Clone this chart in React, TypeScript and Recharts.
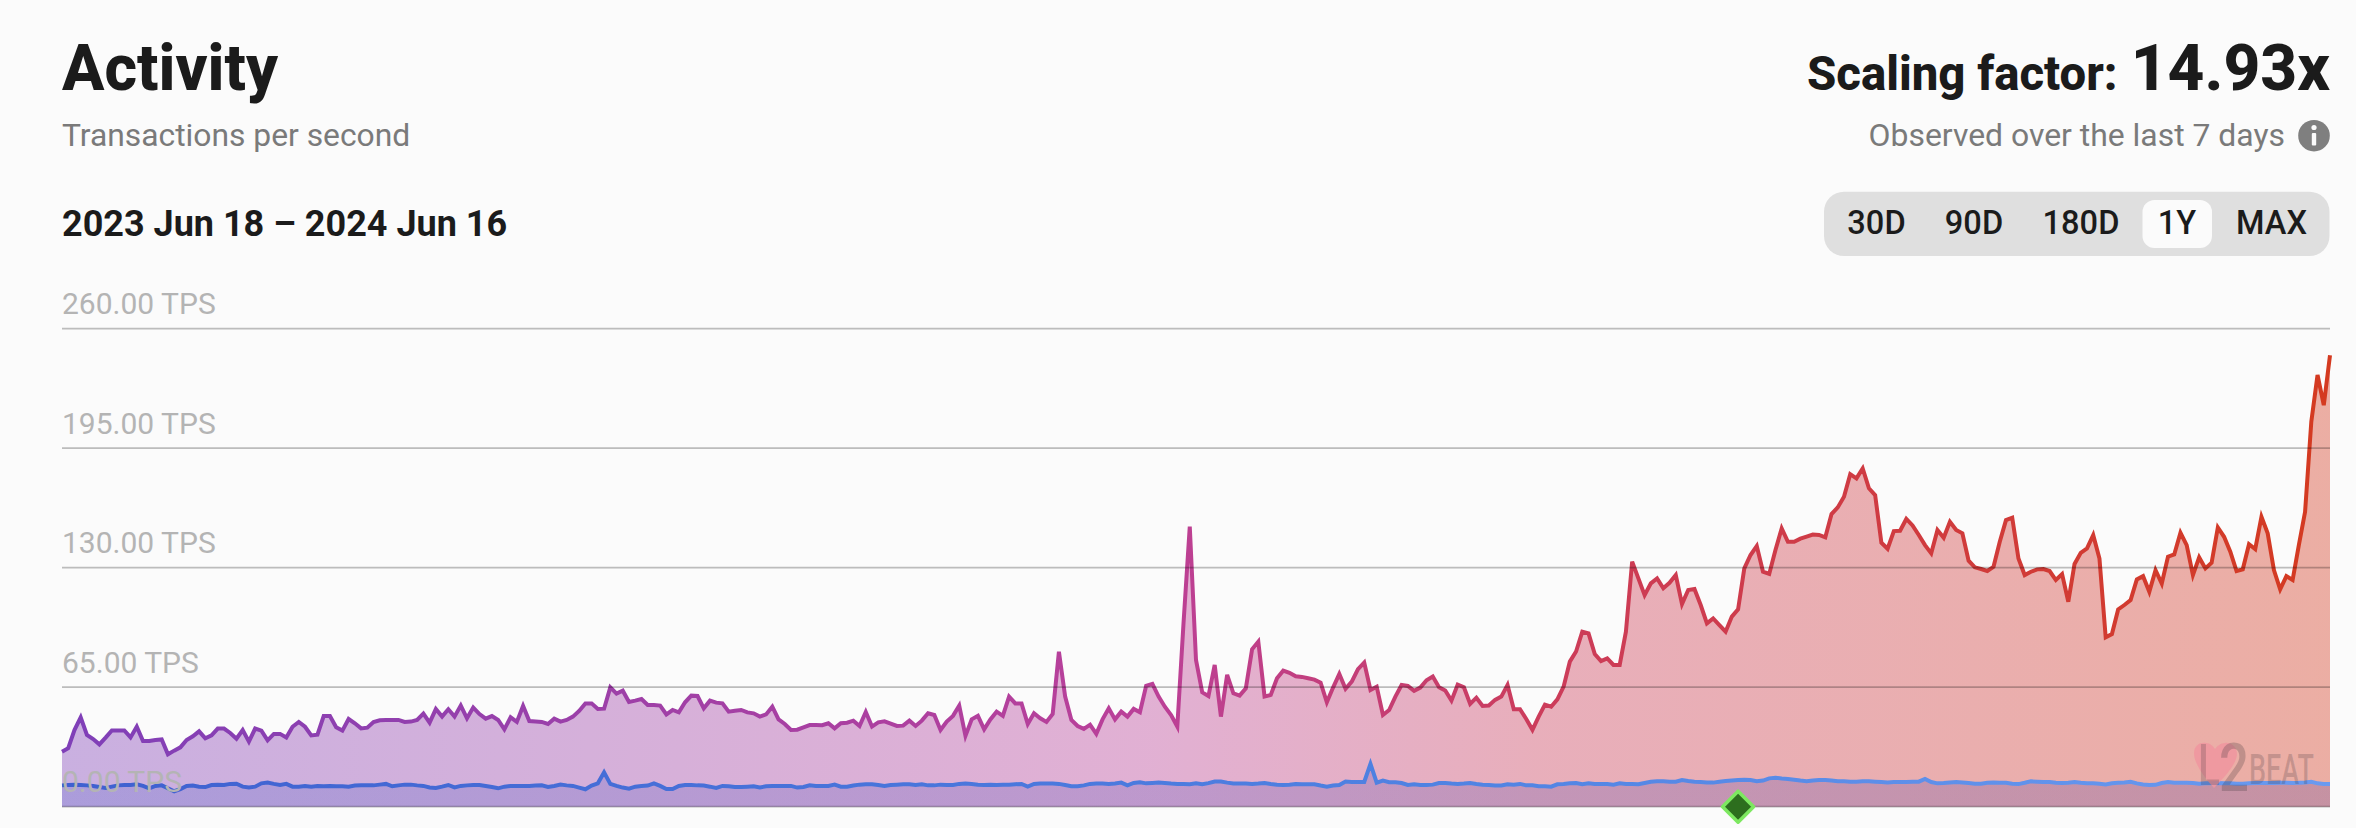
import React from "react";
import { AreaChart, Area, XAxis, YAxis, ReferenceLine, ReferenceDot } from "recharts";

const tickValues = [0, 65, 130, 195, 260];
const rangeOptions = ["30D", "90D", "180D", "1Y", "MAX"];
const upgradeDate = "2024-03-13";

const projectsA = [29.9,31.8,41.7,48.6,39.0,36.8,33.9,37.6,41.5,41.5,41.5,37.7,43.5,35.7,35.7,36.3,36.6,28.5,30.5,32.3,36.3,38.3,41.0,37.2,38.8,42.5,42.5,40.1,37.0,41.7,35.4,42.5,41.4,36.1,39.6,39.6,37.6,43.5,46.1,43.5,38.8,39.2,49.3,49.3,43.2,41.4,47.7,45.4,42.6,43.0,46.1,47.0,47.2,47.2,47.2,46.1,46.3,47.2,50.6,45.7,53.1,49.0];
const projectsB = [53.0,49.0,55.0,48.1,53.9,50.4,47.9,49.3,47.2,42.1,48.6,46.1,54.8,46.6,46.4,46.1,45.0,47.9,46.3,47.2,49.0,52.1,56.2,56.2,53.1,53.3,64.9,61.5,63.1,57.0,57.7,58.6,55.3,55.3,55.0,50.2,52.6,51.3,56.8,60.4,60.2,53.5,57.7,56.6,56.2,51.7,52.2,52.6,51.3,50.8,49.0,50.2,54.4,47.5,45.0,41.7,41.9,43.2,44.4,44.4];
const projectsC = [44.3,45.4,42.6,45.4,45.7,46.8,43.9,51.5,43.6,45.9,46.4,45.2,43.9,44.1,46.8,43.9,46.8,50.8,49.9,41.7,46.3,49.4,55.0,38.5,47.5,49.4,42.1,47.5,51.7,49.4,59.9,56.2,56.2,45.0,50.8,48.1,46.1,50.4,84.3,59.9,47.2,43.9,42.3,44.6,39.6,47.5,53.5,47.5,51.7,49.0,53.2,51.4,65.7,66.8,59.9,54.4,49.9,43.6,100,152.3,79.8];
const projectsD = [62.2,60.2,77.1,49.0,71.7,61.7,60.4,64.4,85.6,89.8,59.9,60.8,69.9,74.0,72.8,70.9,70.6,69.9,69.1,67.5,56.8,64.8,72.2,64.1,68.0,74.8,78.4,63.5,65.3,49.9,52.6,59.9,66.2,65.7,63.0,64.8,68.8,70.8,65.0,63.2,57.7,66.4,65.0,55.9,59.3,54.8,55.0,58.1,59.9,66.2,53.0,53.0,47.7,41.8,49.0,55.5,54.4,58.4,65.3,78.9,84.4];
const projectsE = [95.2,94.3,83.0,79.2,80.7,77.1,77.1,95.2,133.3,124.2,115.1,121.5,124.2,118.8,121.8,126.0,110.2,117.9,118.4,109.7,99.7,102.4,98.8,95.2,103.4,107.3,129.6,136.9,141.8,127.8,126.6,139.6,151.4,144.1,144.1,145.8,146.9,148.0,147.8,146.5,159.2,162.8,168.6,180.9,178.6,184.0,173.2,169.5,143.6,140.3,149.9,150.1,156.5,153.0,147.8,142.3,137.8,150.5,146.3,155.0];
const projectsF = [150.5,148.7,133.8,130.2,129.3,128.2,130.5,144.1,155.9,157.2,135.0,126.0,127.8,129.1,129.3,128.2,123.3,126.5,111.5,132.0,138.1,140.5,147.7,135.0,92.1,93.9,107.3,109.7,112.4,123.6,125.4,116.9,128.7,121.4,136.0,137.2,149.0,142.3,126.0,135.6,129.6,132.7,151.9,146.8,138.7,128.2,129.1,142.8,140.1,157.7,148.7,128.7,118.2,125.4,123.3,142.3,160.4,209.4,234.8,218.4,245.6];

const ethereumA = [11.6,11.8,12.0,11.8,11.6,11.3,10.7,10.2,10.9,11.6,11.8,11.8,12.2,11.3,10.0,11.3,11.6,10.0,8.4,9.6,11.3,11.5,10.9,10.7,11.8,12.0,11.8,12.4,12.5,10.9,10.4,10.9,12.7,13.1,12.4,11.8,12.4,10.9,10.9,11.3,10.9,11.3,11.1,11.3,11.1,11.1,10.9,11.5,11.6,11.6,11.6,12.0,12.4,11.1,11.6,12.0,12.0,11.6,11.3,10.5,10.2,10.9];
const ethereumB = [11.8,10.5,11.3,11.6,11.8,11.8,11.3,10.7,10.0,10.9,11.3,11.3,11.3,11.3,11.5,11.6,10.7,11.3,12.0,11.6,11.3,10.4,9.5,11.5,12.7,18.7,12.4,11.3,10.4,9.8,10.9,11.3,11.5,12.7,11.3,9.6,9.6,11.3,11.8,11.8,11.6,11.5,10.9,10.2,11.3,11.1,10.7,10.7,10.9,11.1,10.5,11.1,11.3,11.3,11.3,11.3,10.4,10.7,11.6,11.3];
const ethereumC = [11.3,11.3,12.0,10.9,10.9,11.5,12.0,12.2,12.2,11.8,11.3,11.8,12.0,12.2,12.2,11.8,12.2,11.6,11.6,12.0,11.8,11.8,12.4,12.6,12.4,12.0,11.8,12.0,11.8,12.0,12.0,12.2,12.4,10.9,12.4,12.6,12.6,12.6,12.4,11.8,11.1,11.1,11.6,12.4,12.6,12.6,12.4,12.6,13.1,11.6,12.9,13.3,12.7,12.9,13.1,12.9,12.6,12.4,12.4,12.2,12.7];
const ethereumD = [12.2,12.8,13.7,13.7,13.1,12.6,12.6,12.6,12.4,12.6,12.9,12.4,12.0,11.8,12.0,12.4,12.2,12.2,12.2,11.5,10.9,11.5,11.8,13.7,13.5,13.5,13.5,23.3,13.1,14.2,13.3,13.3,12.9,11.8,12.2,11.8,11.8,12.0,12.9,12.9,12.6,12.4,12.6,12.9,12.4,12.0,11.8,11.5,11.5,12.2,12.0,12.4,11.6,11.6,11.1,11.1,10.9,12.2,12.4,12.8,12.9];
const ethereumE = [12.2,12.7,12.3,12.3,12.3,12.0,12.7,12.3,12.3,12.2,12.9,13.6,13.8,13.8,13.6,13.6,14.5,14.0,13.6,13.4,13.2,13.1,13.6,14.0,14.3,14.5,14.7,14.5,13.8,14.2,15.4,15.8,15.4,15.1,14.7,14.2,13.8,14.3,14.5,14.5,14.3,13.8,13.8,13.6,13.6,13.8,13.8,13.6,13.4,13.2,13.4,13.4,13.4,13.6,13.6,15.1,13.4,12.7,12.9,13.2];
const ethereumF = [13.4,13.2,12.9,12.5,12.5,13.0,13.2,13.0,13.0,12.5,12.3,13.0,13.8,13.6,13.4,13.4,13.0,12.9,13.0,13.4,13.0,12.7,12.7,12.5,12.1,12.7,13.0,13.2,13.6,12.7,12.1,11.8,11.9,12.9,13.4,13.0,13.0,13.0,12.9,12.5,12.7,12.7,12.9,12.7,12.7,12.5,12.5,12.7,12.9,12.9,12.9,12.9,13.0,13.0,12.9,13.0,13.2,13.6,12.7,12.3,12.3];

const projects = [...projectsA, ...projectsB, ...projectsC, ...projectsD, ...projectsE, ...projectsF];
const ethereum = [...ethereumA, ...ethereumB, ...ethereumC, ...ethereumD, ...ethereumE, ...ethereumF];

const startMs = Date.UTC(2023, 5, 18);
const data = projects.map((value, i) => ({
  date: new Date(startMs + i * 86400000).toISOString().slice(0, 10),
  projects: value,
  ethereum: ethereum[i],
}));

const FONT = "Roboto, sans-serif";

const renderTick = (props: any) => (
  <text x={62} y={props.y - 14.5} fill="#b4b4b4" fontSize={30} fontFamily={FONT} textAnchor="start">
    {Number(props.payload.value).toFixed(2)} TPS
  </text>
);

const Diamond = (props: any) => {
  const { cx, cy } = props;
  const r = 15.5;
  return (
    <polygon
      points={`${cx},${cy - r} ${cx + r},${cy} ${cx},${cy + r} ${cx - r},${cy}`}
      fill="#2d6e1e"
      stroke="#7de860"
      strokeWidth={3.5}
      strokeLinejoin="round"
    />
  );
};

const buttonLabels: Record<string, number> = { "30D": 1876.5, "90D": 1974, "180D": 2081, "1Y": 2177, MAX: 2271.5 };

export default function App() {
  return (
    <div style={{ position: "absolute", left: 0, top: 0, width: 2356, height: 828, background: "#fbfbfb", overflow: "hidden", fontFamily: FONT }}>
      <AreaChart width={2356} height={828} data={data} margin={{ top: 328.7, right: 26, bottom: 21.3, left: 61 }} style={{ position: "absolute", left: 0, top: 0 }}>
        <defs>
          <linearGradient id="mainGradient" x1="0" y1="0" x2="1" y2="0">
            <stop offset="0%" stopColor="#7f3fb8" />
            <stop offset="48%" stopColor="#bb4098" />
            <stop offset="65%" stopColor="#cc3c5b" />
            <stop offset="100%" stopColor="#d43a20" />
          </linearGradient>
          <linearGradient id="ethStroke" x1="0" y1="0" x2="1" y2="0">
            <stop offset="0%" stopColor="#3f60d0" />
            <stop offset="60%" stopColor="#4f82e2" />
            <stop offset="100%" stopColor="#6a9af0" />
          </linearGradient>
          <linearGradient id="ethFill" x1="0" y1="0" x2="1" y2="0">
            <stop offset="0%" stopColor="#4058c8" />
            <stop offset="100%" stopColor="#4030a0" />
          </linearGradient>
        </defs>
        <XAxis dataKey="date" hide />
        <YAxis width={1} domain={[0, 260]} ticks={tickValues} interval={0} axisLine={false} tickLine={false} tick={renderTick} />
        <Area dataKey="projects" type="linear" stroke="url(#mainGradient)" strokeWidth={4} fill="url(#mainGradient)" fillOpacity={0.4} dot={false} isAnimationActive={false} />
        <Area dataKey="ethereum" type="linear" stroke="url(#ethStroke)" strokeWidth={4} fill="url(#ethFill)" fillOpacity={0.22} dot={false} isAnimationActive={false} />
        {tickValues.map((t) => (
          <ReferenceLine key={t} y={t} stroke="rgba(0,0,0,0.25)" strokeWidth={1.8} />
        ))}
        <ReferenceDot x={upgradeDate} y={0} ifOverflow="visible" shape={Diamond} />
      </AreaChart>

      <svg width={2356} height={828} style={{ position: "absolute", left: 0, top: 0, pointerEvents: "none" }}>
        <text x={62} y={90} fontSize={64} fontWeight={800} fill="#1b1b1b" fontFamily={FONT} textLength={216} lengthAdjust="spacingAndGlyphs">Activity</text>
        <text x={62} y={145.5} fontSize={31.8} fill="#7a7a7a" fontFamily={FONT}>Transactions per second</text>
        <text x={62} y={235.5} fontSize={36} fontWeight={700} fill="#1b1b1b" fontFamily={FONT}>2023 Jun 18 – 2024 Jun 16</text>

        <text x={2117.6} y={89.5} fontSize={48} fontWeight={800} fill="#1b1b1b" textAnchor="end" fontFamily={FONT} textLength={310.6} lengthAdjust="spacingAndGlyphs">Scaling factor:</text>
        <text x={2330} y={90} fontSize={64} fontWeight={800} fill="#1b1b1b" textAnchor="end" fontFamily={FONT}>14.93x</text>
        <text x={2285} y={145.5} fontSize={31.9} fill="#7a7a7a" textAnchor="end" fontFamily={FONT}>Observed over the last 7 days</text>
        <circle cx={2314} cy={135.7} r={15.8} fill="#7f7f7f" />
        <rect x={2311.8} y={133} width={4.4} height={12.5} rx={1} fill="#fbfbfb" />
        <circle cx={2314} cy={127.5} r={2.6} fill="#fbfbfb" />

        <rect x={1824} y={191.7} width={505.5} height={64.3} rx={20} fill="#dfdfdf" />
        <rect x={2142.5} y={200} width={69.5} height={48} rx={12} fill="#fbfbfb" />
        {rangeOptions.map((label) => (
          <text key={label} x={buttonLabels[label]} y={234.3} fontSize={32.6} fontWeight={500} fill="#1b1b1b" textAnchor="middle" fontFamily={FONT}>{label}</text>
        ))}

        <g>
          <path d="M2214 788 C2196 768 2194 758 2194 753 C2194 745 2201 742 2206 743 C2210 743 2213 746 2215 749 C2217 746 2221 743 2225 743 C2231 742 2237 747 2237 754 C2237 760 2232 770 2214 788 Z" fill="#f0959f" fillOpacity={0.85} />
          <text x={2198} y={785} fontSize={58} fontWeight={500} fill="#3c3238" fillOpacity={0.22} fontFamily={FONT} textLength={22} lengthAdjust="spacingAndGlyphs">L</text>
          <text x={2219} y={791} fontSize={66} fontWeight={500} fill="#3c3238" fillOpacity={0.25} fontFamily={FONT} textLength={30} lengthAdjust="spacingAndGlyphs">2</text>
          <text x={2249} y={784} fontSize={42} fontWeight={500} fill="#3c3238" fillOpacity={0.22} fontFamily={FONT} textLength={65} lengthAdjust="spacingAndGlyphs">BEAT</text>
        </g>
      </svg>
    </div>
  );
}
